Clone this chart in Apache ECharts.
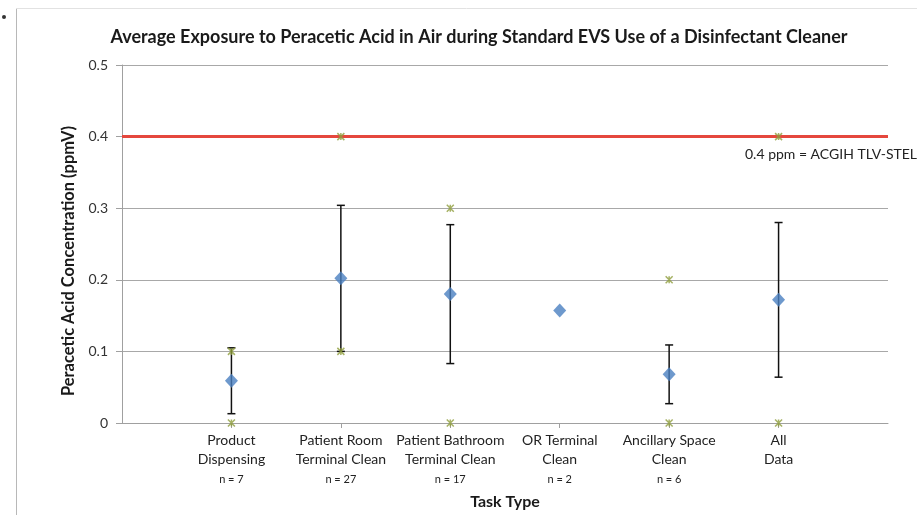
<!DOCTYPE html>
<html>
<head>
<meta charset="utf-8">
<script src="https://cdn.jsdelivr.net/npm/echarts@6/dist/echarts.min.js"></script>
<style>
  html, body { margin: 0; padding: 0; background: #fff; }
  #chart { width: 917px; height: 515px; }
</style>
</head>
<body>
<div id="chart"></div>
<script>
// Task types along the x axis (positions 1..6), with sample counts
const taskLines = [
  ['Product', 'Dispensing'],
  ['Patient Room', 'Terminal Clean'],
  ['Patient Bathroom', 'Terminal Clean'],
  ['OR Terminal', 'Clean'],
  ['Ancillary Space', 'Clean'],
  ['All', 'Data']
];
const sampleCounts = [7, 27, 17, 2, 6, null];

// Mean concentration (ppmV) per task
const meanValues = [0.059, 0.202, 0.180, 0.157, 0.068, 0.172];
// Standard deviation (null where not reported)
const sdValues = [0.046, 0.102, 0.097, null, 0.041, 0.108];
// Observed maximum and minimum (null where not plotted)
const maxValues = [0.1, 0.4, 0.3, null, 0.2, 0.4];
const minValues = [0, 0.1, 0, null, 0, 0];

// Exposure limit
const stelLimit = 0.4;
const stelText = '0.4 ppm = ACGIH TLV-STEL';

const FONT = 'Lato';
const pos = i => i + 1;

const meanData = meanValues.map((v, i) => [pos(i), v]);
const maxData = maxValues.map((v, i) => v == null ? null : [pos(i), v]).filter(Boolean);
const minData = minValues.map((v, i) => v == null ? null : [pos(i), v]).filter(Boolean);
const errData = sdValues.map((s, i) => s == null ? null :
  [pos(i), meanValues[i] - s, meanValues[i] + s]).filter(Boolean);

// small asterisk-style marker for the min/max points
const starPath = 'path://M0,0L10,10M10,0L0,10M5,0L5,10';

const chart = echarts.init(document.getElementById('chart'), null, { renderer: 'canvas' });

chart.setOption({
  animation: false,
  backgroundColor: '#ffffff',
  textStyle: { fontFamily: FONT },
  title: {
    text: 'Average Exposure to Peracetic Acid in Air during Standard EVS Use of a Disinfectant Cleaner',
    left: 474,
    textAlign: 'center',
    top: 23,
    textStyle: { fontFamily: FONT, fontSize: 18, fontWeight: 'bold', color: '#1a1a1a' }
  },
  graphic: [
    { type: 'line', shape: { x1: 16.5, y1: 8, x2: 16.5, y2: 515 }, style: { stroke: '#b8b8b8', lineWidth: 1 } },
    { type: 'line', shape: { x1: 16, y1: 8.5, x2: 917, y2: 8.5 }, style: { stroke: '#e2e2e2', lineWidth: 1 } },
    { type: 'circle', shape: { cx: 4, cy: 17, r: 2 }, style: { fill: '#333' } },
    {
      type: 'text', left: 745, top: 147,
      style: { text: stelText, font: '14px ' + FONT, fill: '#222' }
    }
  ],
  grid: { left: 122, right: 29, top: 65, bottom: 91 },
  xAxis: {
    type: 'value',
    min: 0, max: 7, interval: 1,
    name: 'Task Type',
    nameLocation: 'middle',
    nameGap: 71,
    nameTextStyle: { fontFamily: FONT, fontSize: 16, fontWeight: 'bold', color: '#1a1a1a' },
    axisLine: { show: true, lineStyle: { color: '#a0a0a0', width: 1 } },
    axisTick: { show: true, length: 5, lineStyle: { color: '#a0a0a0' } },
    splitLine: { show: false },
    axisLabel: {
      margin: 8,
      showMinLabel: false,
      showMaxLabel: false,
      formatter: v => {
        const i = v - 1;
        if (i < 0 || i >= taskLines.length) return '';
        let s = '{a|' + taskLines[i][0] + '}\n{a|' + taskLines[i][1] + '}';
        if (sampleCounts[i] != null) s += '\n{n|n = ' + sampleCounts[i] + '}';
        return s;
      },
      rich: {
        a: { fontFamily: FONT, fontSize: 14, color: '#222', lineHeight: 19 },
        n: { fontFamily: FONT, fontSize: 11, color: '#222', lineHeight: 20 }
      }
    }
  },
  yAxis: {
    type: 'value',
    min: 0, max: 0.5, interval: 0.1,
    name: 'Peracetic Acid Concentration (ppmV)',
    nameLocation: 'middle',
    nameGap: 39,
    nameTextStyle: {
      fontFamily: FONT, fontSize: 16.5, fontWeight: 'bold', color: '#1a1a1a',
      padding: [0, 34, 0, 0]
    },
    axisLine: { show: true, lineStyle: { color: '#a0a0a0', width: 1 } },
    axisTick: { show: true, length: 6, lineStyle: { color: '#a0a0a0' } },
    splitLine: { show: true, lineStyle: { color: '#a8a8a8', width: 1 } },
    axisLabel: {
      margin: 14,
      fontFamily: FONT, fontSize: 14, color: '#333',
      formatter: v => (v === 0 ? '0' : v.toFixed(1))
    }
  },
  series: [
    {
      // exposure limit line
      type: 'line',
      data: [[0, stelLimit], [7, stelLimit]],
      symbol: 'none',
      lineStyle: { color: '#e5473d', width: 3 },
      z: 1
    },
    {
      // ±1 SD error bars
      type: 'custom',
      data: errData,
      z: 2,
      renderItem: (params, api) => {
        const x = api.value(0);
        const lo = api.coord([x, api.value(1)]);
        const hi = api.coord([x, api.value(2)]);
        const cap = 4;
        const st = { stroke: '#111', lineWidth: 1.5 };
        return {
          type: 'group',
          children: [
            { type: 'line', shape: { x1: lo[0], y1: lo[1], x2: hi[0], y2: hi[1] }, style: st },
            { type: 'line', shape: { x1: lo[0] - cap, y1: lo[1], x2: lo[0] + cap, y2: lo[1] }, style: st },
            { type: 'line', shape: { x1: hi[0] - cap, y1: hi[1], x2: hi[0] + cap, y2: hi[1] }, style: st }
          ]
        };
      }
    },
    {
      // maximum values
      type: 'scatter',
      data: maxData,
      symbol: starPath,
      symbolSize: 7,
      itemStyle: { color: '#8e9e3c', borderColor: '#8e9e3c', borderWidth: 1.5 },
      z: 3
    },
    {
      // minimum values
      type: 'scatter',
      data: minData,
      symbol: starPath,
      symbolSize: 7,
      itemStyle: { color: '#8e9e3c', borderColor: '#8e9e3c', borderWidth: 1.5 },
      z: 3
    },
    {
      // mean values
      type: 'scatter',
      data: meanData,
      symbol: 'diamond',
      symbolSize: [13, 14],
      itemStyle: { color: '#4a7fc1' },
      z: 4
    }
  ]
});
</script>
</body>
</html>
